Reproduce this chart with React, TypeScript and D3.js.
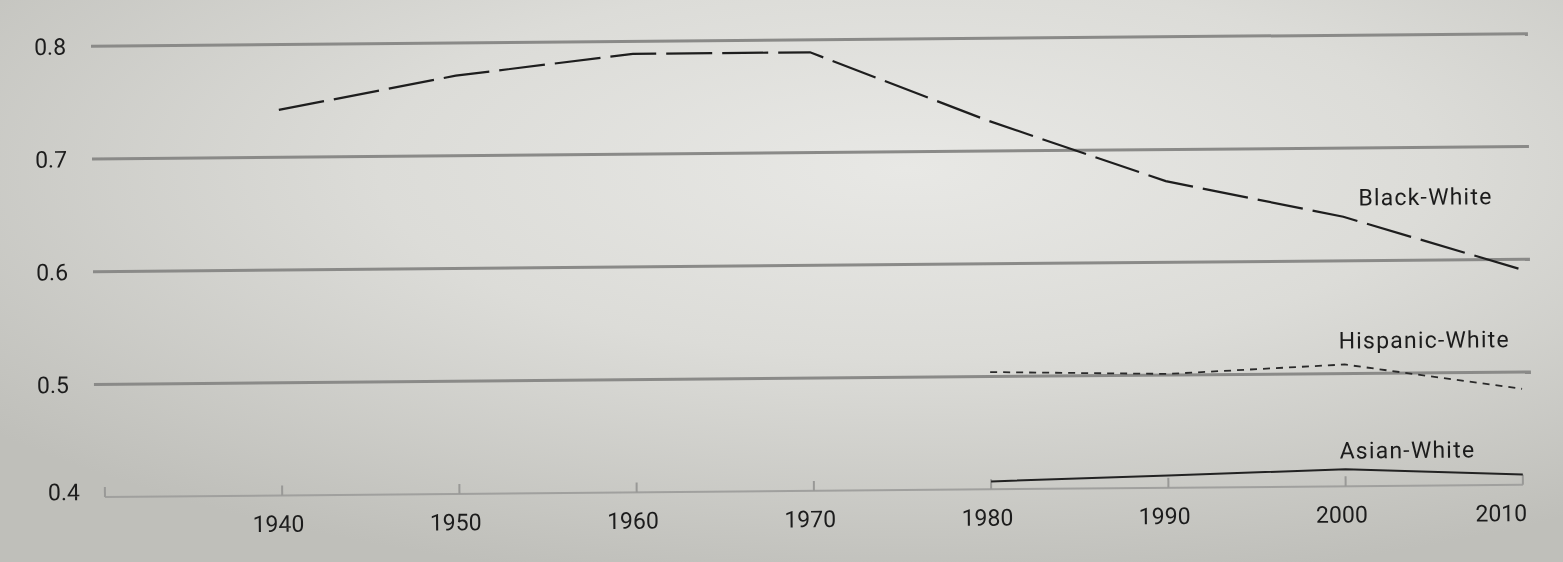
import React from "react";
import * as d3 from "d3";

const W = 1563;
const H = 562;

const decades = [1940, 1950, 1960, 1970, 1980, 1990, 2000, 2010];
const blackWhite = [0.742, 0.771, 0.789, 0.789, 0.727, 0.672, 0.639, 0.591];
const hispanicYears = [1980, 1990, 2000, 2010];
const hispanicWhite = [0.504, 0.501, 0.508, 0.485];
const asianYears = [1980, 1990, 2000, 2010];
const asianWhite = [0.407, 0.411, 0.415, 0.409];
const yTicks = [0.8, 0.7, 0.6, 0.5];
const tickYears = [1930, 1940, 1950, 1960, 1970, 1980, 1990, 2000, 2010];

const FONT = "Roboto, 'DejaVu Sans', sans-serif";

const App: React.FC = () => {
  const x = d3.scaleLinear().domain([1930, 2010]).range([103, 1521]);
  const y = d3.scaleLinear().domain([0.4, 0.8]).range([491, 40]);

  const line = d3
    .line<[number, number]>()
    .x((d) => x(d[0]))
    .y((d) => y(d[1]));

  const bw = line(decades.map((d, i) => [d, blackWhite[i]]));
  const hw = line(hispanicYears.map((d, i) => [d, hispanicWhite[i]]));
  const aw = line(asianYears.map((d, i) => [d, asianWhite[i]]));

  return (
    <svg
      width={W}
      height={H}
      style={{ position: "fixed", left: 0, top: 0, display: "block" }}
    >
      <defs>
        <radialGradient id="paper" cx="58%" cy="30%" r="75%">
          <stop offset="0%" stopColor="#e8e8e5" />
          <stop offset="45%" stopColor="#dcdcd8" />
          <stop offset="100%" stopColor="#bfbfba" />
        </radialGradient>
      </defs>
      <rect width={W} height={H} fill="url(#paper)" />

      {/* photo is slightly tilted */}
      <g transform="rotate(-0.5, 800, 270)" fontFamily={FONT} fill="#1c1c1c">
        {/* gridlines */}
        {yTicks.map((t) => (
          <g key={t}>
            <line
              x1={93}
              x2={1530}
              y1={y(t)}
              y2={y(t)}
              stroke="#8a8a88"
              strokeWidth={3}
            />
            <text x={68} y={y(t)} dy="0.36em" textAnchor="end" fontSize={23}>
              {t.toFixed(1)}
            </text>
          </g>
        ))}

        {/* baseline at 0.4 */}
        <line
          x1={x(1930)}
          x2={x(2010)}
          y1={y(0.4)}
          y2={y(0.4)}
          stroke="#a0a09e"
          strokeWidth={2}
        />
        <text x={78} y={y(0.4)} dy="0.12em" textAnchor="end" fontSize={23}>
          0.4
        </text>
        {tickYears.map((t) => (
          <line
            key={t}
            x1={x(t)}
            x2={x(t)}
            y1={y(0.4)}
            y2={y(0.4) - 10}
            stroke="#999997"
            strokeWidth={2}
          />
        ))}
        {decades.map((t, i) => (
          <text
            key={t}
            x={i === decades.length - 1 ? x(t) + 4 : x(t) - 4}
            y={y(0.4) + 28}
            dy="0.36em"
            textAnchor={i === decades.length - 1 ? "end" : "middle"}
            fontSize={23}
          >
            {t}
          </text>
        ))}

        {/* series */}
        <path
          d={bw || ""}
          fill="none"
          stroke="#1e1e1e"
          strokeWidth={2.2}
          strokeDasharray="46 10"
        />
        <path
          d={hw || ""}
          fill="none"
          stroke="#2a2a2a"
          strokeWidth={1.8}
          strokeDasharray="7 6"
        />
        <path d={aw || ""} fill="none" stroke="#222" strokeWidth={2} />

        {/* series labels */}
        <text x={1359} y={202} dy="0.36em" fontSize={23} letterSpacing={1.2}>
          Black-White
        </text>
        <text x={1338} y={345} dy="0.36em" fontSize={23} letterSpacing={1.2}>
          Hispanic-White
        </text>
        <text x={1338} y={455} dy="0.36em" fontSize={23} letterSpacing={1.2}>
          Asian-White
        </text>
      </g>
    </svg>
  );
};

export default App;
